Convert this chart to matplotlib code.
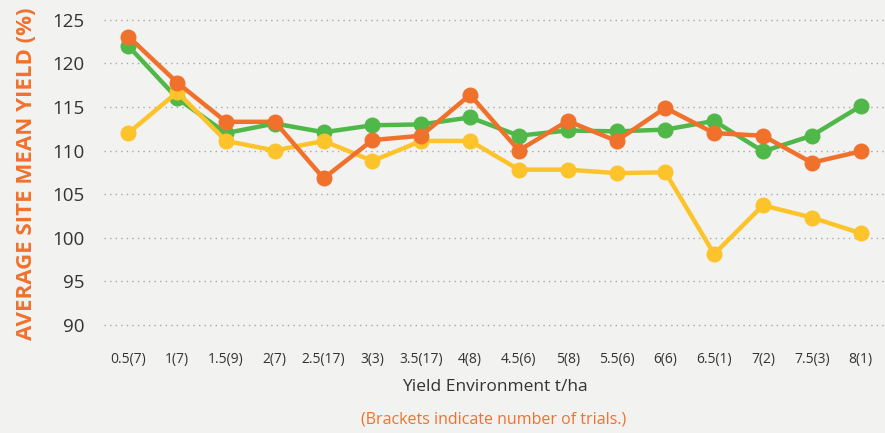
import numpy as np
import matplotlib
matplotlib.use('Agg')
import matplotlib.pyplot as plt

# yield environment categories (number of trials in brackets)
categories = ['0.5(7)', '1(7)', '1.5(9)', '2(7)', '2.5(17)', '3(3)', '3.5(17)', '4(8)',
              '4.5(6)', '5(8)', '5.5(6)', '6(6)', '6.5(1)', '7(2)', '7.5(3)', '8(1)']

green = [122.0, 116.0, 112.0, 113.1, 112.1, 112.9, 113.0, 113.8,
         111.7, 112.3, 112.2, 112.4, 113.4, 109.9, 111.7, 115.1]
yellow = [112.0, 116.7, 111.1, 110.0, 111.1, 108.8, 111.1, 111.1,
          107.8, 107.8, 107.4, 107.5, 98.1, 103.7, 102.3, 100.5]
orange = [123.1, 117.8, 113.3, 113.3, 106.8, 111.2, 111.7, 116.4,
          110.0, 113.4, 111.1, 114.9, 112.0, 111.7, 108.6, 109.9]
yticks = [90, 95, 100, 105, 110, 115, 120, 125]

C_GREEN = '#50b848'; C_YELLOW = '#fdc32a'; C_ORANGE = '#f0712c'
BG = '#f2f2f0'; TXT = '#333333'

plt.rcParams['font.family'] = ['Open Sans', 'DejaVu Sans']

fig = plt.figure(figsize=(8.85, 4.33), dpi=100)
fig.patch.set_facecolor(BG)
ax = fig.add_axes([0.1175, 0.2263, 0.8825, 0.7507])
ax.set_facecolor(BG)

x = np.arange(len(categories))
for vals, c in [(green, C_GREEN), (yellow, C_YELLOW), (orange, C_ORANGE)]:
    ax.plot(x, vals, color=c, lw=3.2, marker='o', ms=10.5, solid_capstyle='round')

ax.set_xlim(-0.5, 15.5)
ax.set_ylim(88.8, 126.15)
ax.set_yticks(yticks)
ax.set_xticks(x)
ax.set_xticklabels(categories)
ax.tick_params(axis='y', length=0, labelsize=13.5, labelcolor=TXT, pad=14)
ax.tick_params(axis='x', length=0, labelsize=10, labelcolor=TXT, pad=12)
ax.grid(axis='y', color='#a8a8a8', lw=1.0, ls=(0, (1, 3)))
ax.set_axisbelow(True)
for s in ax.spines.values():
    s.set_visible(False)

fig.text(0.0305, 0.598, 'AVERAGE SITE MEAN YIELD (%)', rotation=90, ha='center', va='center',
         color=C_ORANGE, fontsize=16, fontweight='bold')
fig.text(0.559, 1 - 387 / 433, 'Yield Environment t/ha', ha='center', va='center',
         color=TXT, fontsize=12.5)
fig.text(0.558, 1 - 420 / 433, '(Brackets indicate number of trials.)', ha='center',
         va='center', color=C_ORANGE, fontsize=11.5)

fig.savefig('out.png', dpi=100, facecolor=fig.get_facecolor())
